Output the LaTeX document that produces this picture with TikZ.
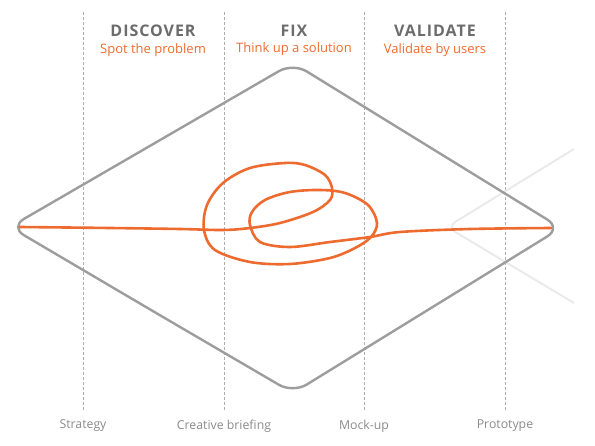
\documentclass[tikz,border=0pt]{standalone}
\usepackage{fontspec}
\setmainfont{Open Sans}
\usetikzlibrary{positioning}
\definecolor{fixorange}{HTML}{EE6B2F}
\definecolor{framegray}{HTML}{9D9D9D}
\definecolor{headgray}{HTML}{6C6C6C}
\definecolor{labelgray}{HTML}{8A8A8A}
\definecolor{ghostgray}{HTML}{EAEAEA}

\begin{document}
\begin{tikzpicture}[x=1pt,y=-1pt,
    phase/.style={font=\bfseries\fontsize{16}{18}\selectfont\addfontfeatures{LetterSpace=6}, text=headgray, inner sep=0pt},
    task/.style={font=\fontsize{13}{15}\selectfont, text=fixorange, inner sep=0pt},
    stage/.style={font=\fontsize{12.3}{14}\selectfont, text=labelgray, inner sep=1pt},
    guide/.style={draw=labelgray!70, densely dashed, line width=0.5pt},
    frame/.style={draw=framegray, line width=2.4pt, rounded corners=16pt},
    ghost/.style={draw=ghostgray, line width=2pt, rounded corners=10pt},
    path/.style={draw=fixorange, line width=2.6pt, line cap=round}]
    \useasboundingbox (0,0) rectangle (595,446);

    % guides and stages
    \foreach \x/\name/\txt in {83/strategy/Strategy, 224/briefing/Creative briefing,
                               364/mockup/Mock-up, 505/prototype/Prototype} {
        \node[stage] (\name) at (\x,426) {\txt};
        \coordinate (\name top) at (\x,12);
        \draw[guide] (\name top) -- ([yshift=8pt]\name.north);
    }

    % phases
    \node[phase] (discover) at (153,31) {DISCOVER};
    \node[task, below=6pt of discover] (spot) {Spot the problem};
    \node[phase] (fix) at (294,31) {FIX};
    \node[task, below=6pt of fix] (think) {Think up a solution};
    \node[phase] (validate) at (435,31) {VALIDATE};
    \node[task, below=6pt of validate] (users) {Validate by users};

    % next diamond, faded
    \draw[ghost] (574,149) -- (447,227) -- (574,303);

    % diamond
    \draw[frame] (151,310) -- (10,227) -- (293,63) -- (561,228) -- (293,393) -- cycle;

    % the messy path
    \draw[path] plot[smooth, tension=0.55] coordinates {
        (20,227) (110,228) (180,229) (223,230) (250,228) (280,223) (313,212)
        (330,200) (332,188) (325,175) (305,165) (285,163) (250,168) (223,183)
        (207,205) (204,230) (215,250) (250,262) (290,264) (330,258) (355,248)
        (371,237) (377,223) (368,205) (345,193) (320,190) (290,192) (265,200)
        (252,212) (250,225) (260,242) (290,247) (330,242) (370,237) (400,232)
        (470,229) (551,228)};
\end{tikzpicture}
\end{document}
